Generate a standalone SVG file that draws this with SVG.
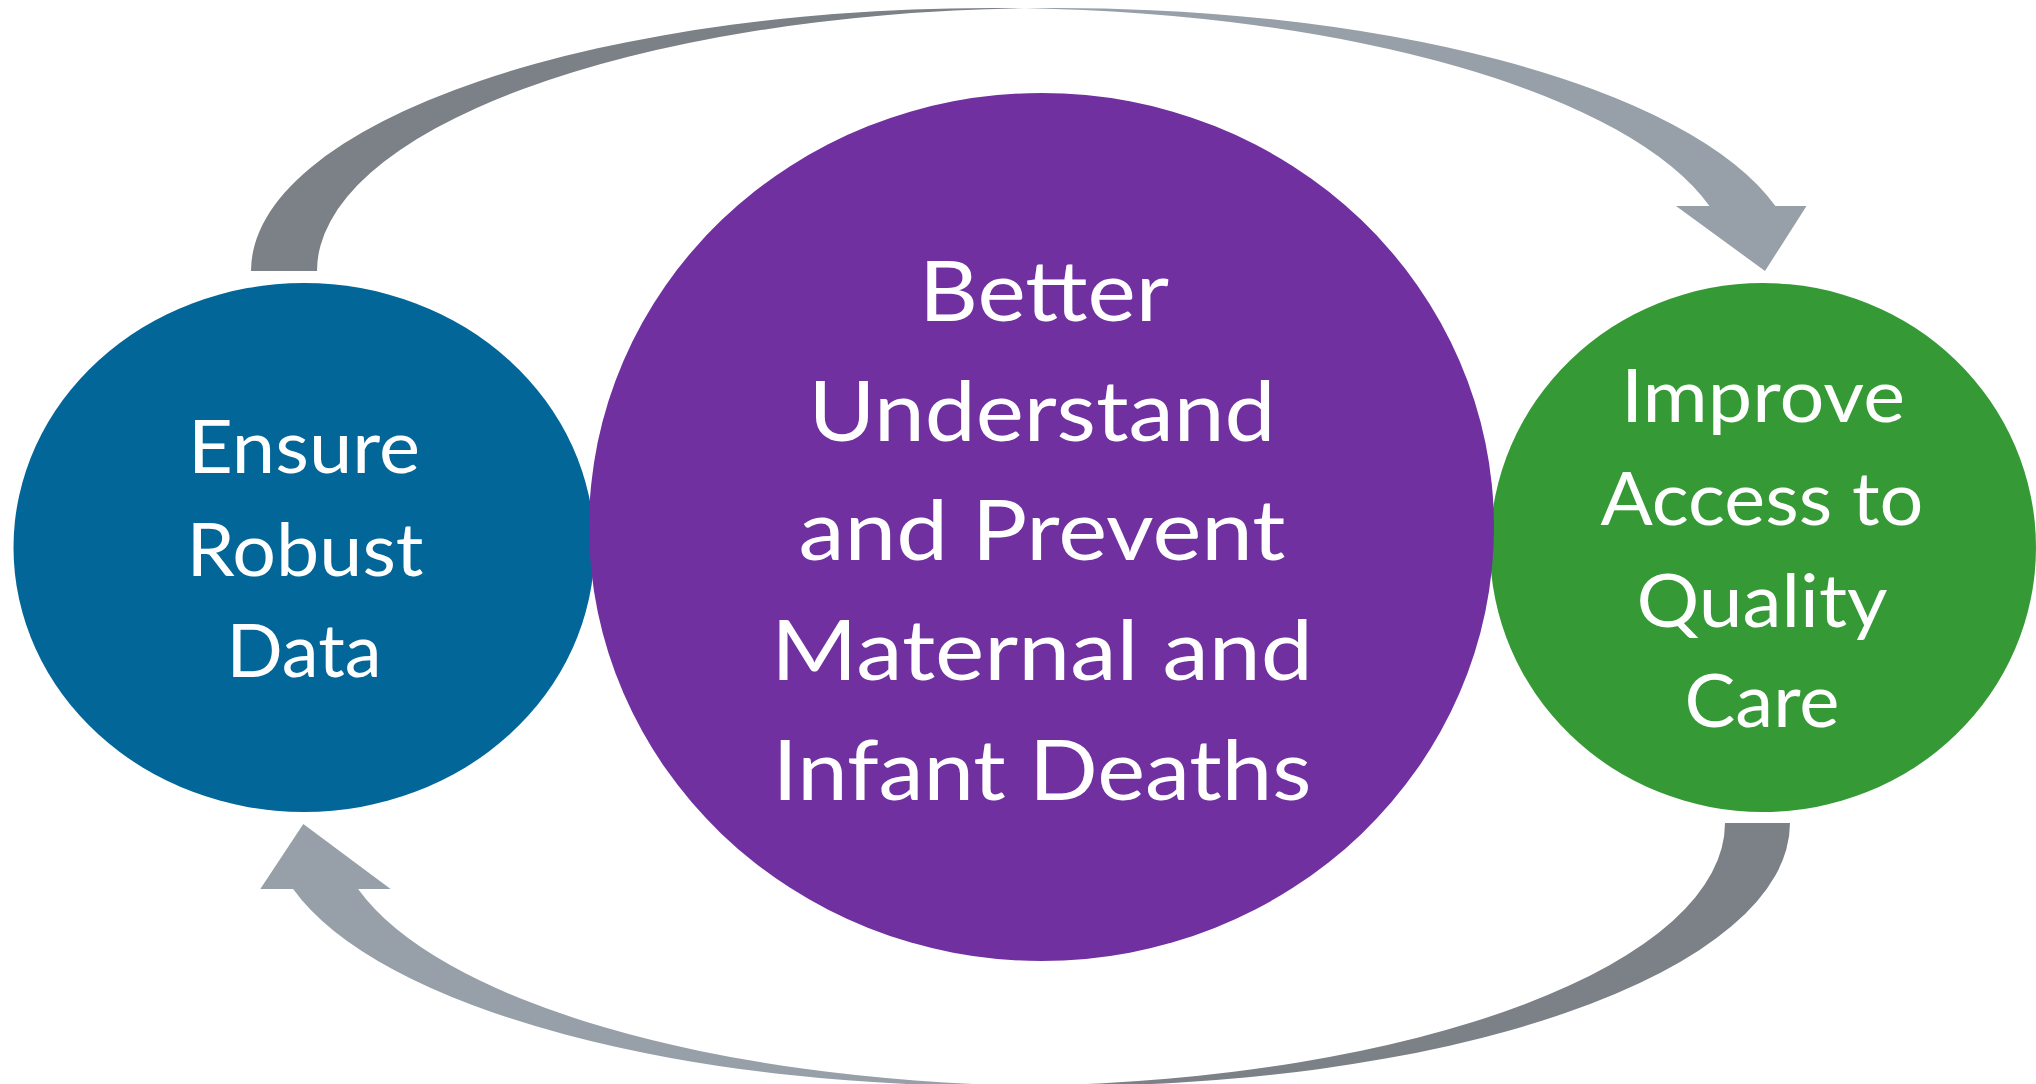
<svg xmlns="http://www.w3.org/2000/svg" width="2036" height="1084" viewBox="0 0 2036 1084">
  <style>
    .label { font-family: "Lato", "Liberation Sans", sans-serif; fill: #ffffff; text-anchor: middle; }
    .big { font-size: 84px; }
    .side { font-size: 74px; }
    .band-back { fill: #7b8187; }
    .band-front { fill: #97a0a8; }
  </style>
  <rect width="2036" height="1084" fill="#ffffff"/>

  <!-- curved cycle arrows -->
  <g id="connectors">
    <!-- top arrow: Ensure Robust Data -> Improve Access to Quality Care -->
    <g id="arrow-top">
      <path class="band-back" d="M 251 271 A 740.7 263 0 0 1 1024.7 8.3 A 740.7 263 0 0 0 317 271 Z"/>
      <path class="band-front" d="M 1024.7 8.3 A 740.7 263 0 0 1 1775.4 206 L 1806.5 206 L 1765 271 L 1676 206 L 1709.4 206 A 740.7 263 0 0 0 1024.7 8.3 Z"/>
    </g>
    <!-- bottom arrow: Improve Access to Quality Care -> Ensure Robust Data -->
    <g id="arrow-bottom">
      <path class="band-back" d="M 1790 823 A 727.6 263 0 0 1 1029.9 1085.7 A 727.6 263 0 0 0 1725 823 Z"/>
      <path class="band-front" d="M 1029.9 1085.7 A 727.6 263 0 0 1 293.1 889 L 260.3 889 L 303.3 824 L 390.6 889 L 358.1 889 A 727.6 263 0 0 0 1029.9 1085.7 Z"/>
    </g>
  </g>

  <g id="node-data">
    <ellipse cx="304" cy="547.5" rx="290.5" ry="264.5" fill="#026699"/>
    <text class="label side" x="304" y="473" textLength="232" lengthAdjust="spacingAndGlyphs">Ensure</text>
    <text class="label side" x="305" y="576" textLength="237" lengthAdjust="spacingAndGlyphs">Robust</text>
    <text class="label side" x="304" y="677" textLength="155" lengthAdjust="spacingAndGlyphs">Data</text>
  </g>

  <g id="node-care">
    <ellipse cx="1763" cy="547.5" rx="273" ry="264.5" fill="#359a35"/>
    <text class="label side" x="1763" y="422" textLength="284" lengthAdjust="spacingAndGlyphs">Improve</text>
    <text class="label side" x="1762" y="525" textLength="323" lengthAdjust="spacingAndGlyphs">Access to</text>
    <text class="label side" x="1762" y="627" textLength="251" lengthAdjust="spacingAndGlyphs">Quality</text>
    <text class="label side" x="1762" y="727" textLength="155" lengthAdjust="spacingAndGlyphs">Care</text>
  </g>

  <g id="node-goal">
    <ellipse cx="1041.5" cy="527" rx="452.5" ry="434" fill="#7030a0"/>
    <text class="label big" x="1044" y="321" textLength="250" lengthAdjust="spacingAndGlyphs">Better</text>
    <text class="label big" x="1042" y="441" textLength="467" lengthAdjust="spacingAndGlyphs">Understand</text>
    <text class="label big" x="1042" y="560" textLength="487" lengthAdjust="spacingAndGlyphs">and Prevent</text>
    <text class="label big" x="1042" y="680" textLength="542" lengthAdjust="spacingAndGlyphs">Maternal and</text>
    <text class="label big" x="1042" y="800" textLength="539" lengthAdjust="spacingAndGlyphs">Infant Deaths</text>
  </g>
</svg>
